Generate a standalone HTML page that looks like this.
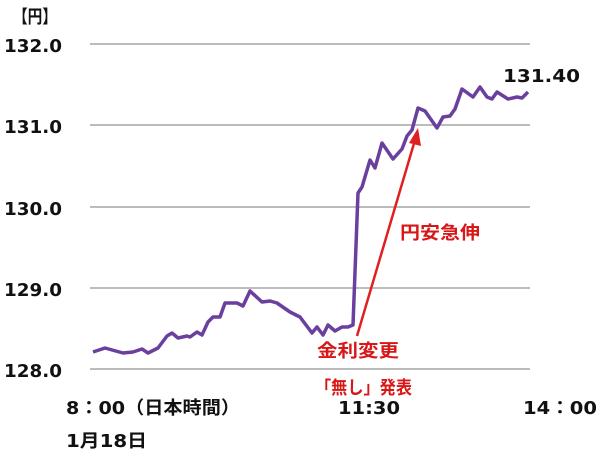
<!DOCTYPE html>
<html><head><meta charset="utf-8"><style>
html,body{margin:0;padding:0;background:#fff;}
body{width:600px;height:451px;overflow:hidden;}
svg text{font-family:"DejaVu Sans","Noto Sans CJK JP",sans-serif;font-weight:bold;}
</style></head><body>
<svg width="600" height="451" viewBox="0 0 600 451" xmlns="http://www.w3.org/2000/svg">
<g stroke="#a6a6a6" stroke-width="1.5">
<line x1="90" y1="44" x2="530" y2="44"/>
<line x1="90" y1="125" x2="530" y2="125"/>
<line x1="90" y1="207" x2="530" y2="207"/>
<line x1="90" y1="288" x2="530" y2="288"/>
<line x1="90" y1="369" x2="530" y2="369"/>
</g>
<g font-size="18" fill="#111">
<text x="13" y="23" textLength="44" lengthAdjust="spacingAndGlyphs">【円】</text>
<text x="4" y="52" textLength="58" lengthAdjust="spacingAndGlyphs">132.0</text>
<text x="4" y="133" textLength="58" lengthAdjust="spacingAndGlyphs">131.0</text>
<text x="4" y="215" textLength="58" lengthAdjust="spacingAndGlyphs">130.0</text>
<text x="4" y="296" textLength="58" lengthAdjust="spacingAndGlyphs">129.0</text>
<text x="4" y="377" textLength="58" lengthAdjust="spacingAndGlyphs">128.0</text>
<text x="66" y="414" textLength="174" lengthAdjust="spacingAndGlyphs">8：00（日本時間）</text>
<text x="338" y="414" textLength="62" lengthAdjust="spacingAndGlyphs">11:30</text>
<text x="523" y="414" textLength="74" lengthAdjust="spacingAndGlyphs">14：00</text>
<text x="66" y="447" textLength="81" lengthAdjust="spacingAndGlyphs">1月18日</text>
<text x="503" y="82" textLength="77" lengthAdjust="spacingAndGlyphs">131.40</text>
</g>
<polyline fill="none" stroke="#6a3f9e" stroke-width="3.5" stroke-linejoin="round" points="93,352 105,348 123,353 133,352 142,349 148,353 158,348 167,336 172,333 178,338 187,336 190,337 197,332 202,335 208,322 213,317 220,317 225,303 237,303 243,306 250,291 262,302 270,301 277,303 290,312 300,317 312,333 317,327 323,335 328,325 335,331 342,327 348,327 353,325 358,193 362,187 370,160 375,168 382,143 393,159 402,149 407,136 412,130 418,108 425,111 437,128 443,117 450,116 455,109 462,89 473,97 480,87 487,97 492,99 497,92 508,99 517,97 522,98 528,92"/>
<line x1="357" y1="336" x2="415" y2="140" stroke="#e02020" stroke-width="2.5"/>
<polygon points="418,128 409,143 421,146" fill="#e02020"/>
<g font-size="18" fill="#d81818">
<text x="400" y="239" textLength="80" lengthAdjust="spacingAndGlyphs">円安急伸</text>
<text x="317" y="357" textLength="82" lengthAdjust="spacingAndGlyphs">金利変更</text>
<text x="315" y="394" textLength="97" lengthAdjust="spacingAndGlyphs">「無し」発表</text>
</g>
</svg>
</body></html>
